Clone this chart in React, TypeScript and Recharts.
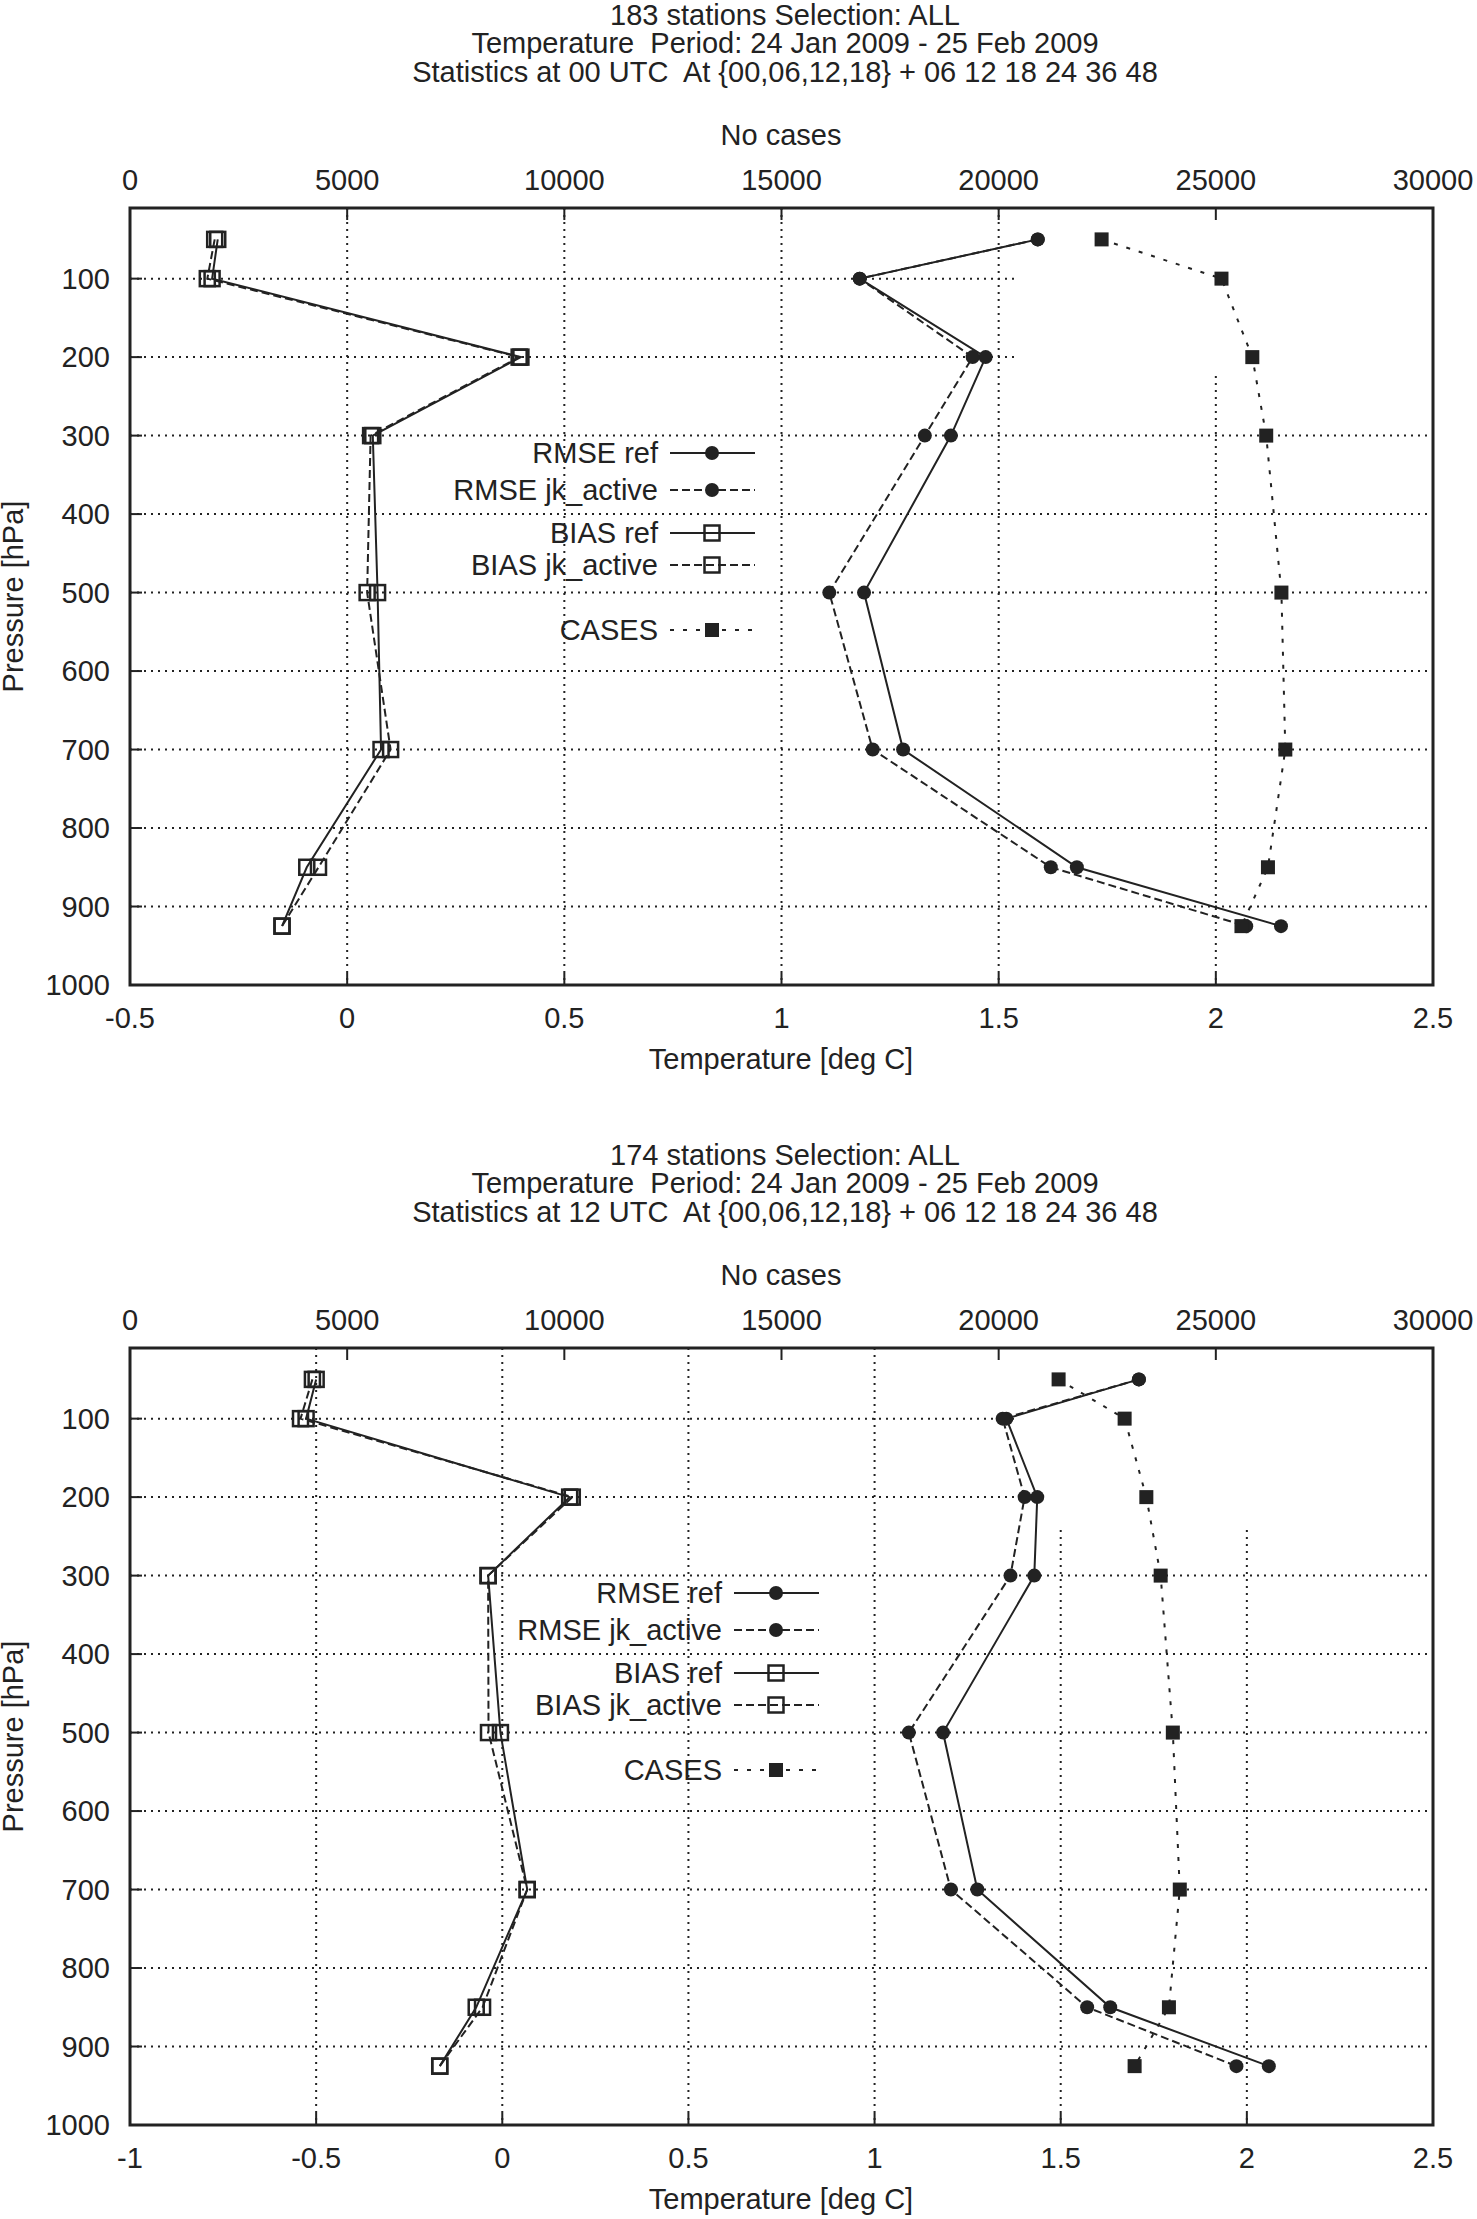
import React from 'react';
import { ScatterChart, Scatter, XAxis, YAxis, CartesianGrid, ReferenceArea, Legend } from 'recharts';

// pressure levels [hPa] at which the verification was done
const LEVELS = [50, 100, 200, 300, 500, 700, 850, 925];
const PRESSURE_TICKS = [100, 200, 300, 400, 500, 600, 700, 800, 900, 1000];
const CASES_TICKS = [0, 5000, 10000, 15000, 20000, 25000, 30000];

// 00 UTC panel
const TITLE_00 = [
  '183 stations Selection: ALL',
  'Temperature  Period: 24 Jan 2009 - 25 Feb 2009',
  'Statistics at 00 UTC  At {00,06,12,18} + 06 12 18 24 36 48',
];
const TEMP_TICKS_00 = [-0.5, 0, 0.5, 1, 1.5, 2, 2.5];
const RMSE_REF_00 = [1.59, 1.18, 1.47, 1.39, 1.19, 1.28, 1.68, 2.15];
const RMSE_JK_00 = [1.59, 1.18, 1.44, 1.33, 1.11, 1.21, 1.62, 2.07];
const BIAS_REF_00 = [-0.298, -0.311, 0.4, 0.059, 0.07, 0.078, -0.093, -0.15];
const BIAS_JK_00 = [-0.305, -0.322, 0.396, 0.054, 0.046, 0.1, -0.066, -0.15];
const CASES_00 = [22370, 25130, 25840, 26160, 26510, 26600, 26200, 25590];

// 12 UTC panel
const TITLE_12 = [
  '174 stations Selection: ALL',
  'Temperature  Period: 24 Jan 2009 - 25 Feb 2009',
  'Statistics at 12 UTC  At {00,06,12,18} + 06 12 18 24 36 48',
];
const TEMP_TICKS_12 = [-1, -0.5, 0, 0.5, 1, 1.5, 2, 2.5];
const RMSE_REF_12 = [1.71, 1.354, 1.437, 1.429, 1.184, 1.276, 1.633, 2.059];
const RMSE_JK_12 = [1.71, 1.344, 1.403, 1.365, 1.092, 1.205, 1.571, 1.972];
const BIAS_REF_12 = [-0.5, -0.527, 0.181, -0.038, -0.005, 0.067, -0.07, -0.168];
const BIAS_JK_12 = [-0.51, -0.542, 0.188, -0.038, -0.037, 0.067, -0.053, -0.168];
const CASES_12 = [21380, 22900, 23400, 23730, 24010, 24170, 23920, 23130];

const SERIES_NAMES = ['RMSE ref', 'RMSE jk_active', 'BIAS ref', 'BIAS jk_active', 'CASES'];

const INK = '#222';
const FONT = '"Liberation Sans", Arial, Helvetica, sans-serif';
const FS = 29;
const W = 1477;
const H = 1079;

const STYLES = [
  { dash: undefined, marker: 'dot', axis: 'temp' },
  { dash: '8 4', marker: 'dot', axis: 'temp' },
  { dash: undefined, marker: 'open', axis: 'temp' },
  { dash: '8 4', marker: 'open', axis: 'temp' },
  { dash: '4 9', marker: 'filled', axis: 'cases' },
];

// legend row offsets (gnuplot leaves an empty row before CASES)
const LEGEND_TOP = 453;
const LEGEND_ROWS = [0, 37, 80, 112, 177];

const Marker = ({ kind, cx, cy }: { kind: string; cx: number; cy: number }) => {
  if (kind === 'dot') return <circle cx={cx} cy={cy} r={7} fill={INK} />;
  if (kind === 'open')
    return <rect x={cx - 7.5} y={cy - 7.5} width={15} height={15} fill="none" stroke={INK} strokeWidth={2.5} />;
  return <rect x={cx - 7} y={cy - 7} width={14} height={14} fill={INK} />;
};

const toPoints = (vals: number[]) => LEVELS.map((p, i) => ({ x: vals[i], p }));

interface PanelProps {
  title: string[];
  tempTicks: number[];
  series: number[][];
  legendRight: number;
  mask: { x1: number; y2: number };
}

const Panel: React.FC<PanelProps> = ({ title, tempTicks, series, legendRight, mask }) => {
  const tMin = tempTicks[0];
  const tMax = tempTicks[tempTicks.length - 1];
  const tickStyle = { fontSize: FS, fill: INK, fontFamily: FONT };

  const renderLegend = () => (
    <svg width={W} height={H} style={{ display: 'block', fontFamily: FONT }}>
      {SERIES_NAMES.map((name, i) => {
        const y = LEGEND_TOP + LEGEND_ROWS[i];
        const st = STYLES[i];
        return (
          <g key={name}>
            <text x={legendRight} y={y} textAnchor="end" dominantBaseline="central" fontSize={FS} fill={INK}>
              {name}
            </text>
            <line x1={legendRight + 12} x2={legendRight + 97} y1={y} y2={y} stroke={INK} strokeWidth={2} strokeDasharray={st.dash} />
            <Marker kind={st.marker} cx={legendRight + 54} cy={y} />
          </g>
        );
      })}
    </svg>
  );

  return (
    <div style={{ position: 'relative', width: W, height: H }}>
      <ScatterChart width={W} height={H} margin={{ top: 107, right: 43, bottom: 34, left: 30 }}>
        <XAxis
          xAxisId="tempTop"
          orientation="top"
          type="number"
          dataKey="x"
          domain={[tMin, tMax]}
          ticks={tempTicks}
          interval={0}
          allowDataOverflow
          height={1}
          tick={false}
          tickSize={-12}
          tickLine={{ stroke: INK, strokeWidth: 2 }}
          axisLine={false}
        />
        <XAxis
          xAxisId="cases"
          orientation="top"
          type="number"
          dataKey="x"
          domain={[0, 30000]}
          ticks={CASES_TICKS}
          interval={0}
          allowDataOverflow
          height={100}
          tick={tickStyle}
          tickSize={-12}
          tickMargin={30}
          tickLine={{ stroke: INK, strokeWidth: 2 }}
          axisLine={false}
        />
        <XAxis
          xAxisId="temp"
          orientation="bottom"
          type="number"
          dataKey="x"
          domain={[tMin, tMax]}
          ticks={tempTicks}
          interval={0}
          allowDataOverflow
          height={60}
          tick={tickStyle}
          tickSize={-12}
          tickMargin={34}
          tickLine={{ stroke: INK, strokeWidth: 2 }}
          axisLine={false}
        />
        <YAxis
          yAxisId="p"
          type="number"
          dataKey="p"
          domain={[10, 1000]}
          reversed
          ticks={PRESSURE_TICKS}
          interval={0}
          allowDataOverflow
          width={100}
          tick={tickStyle}
          tickSize={-12}
          tickMargin={32}
          tickLine={{ stroke: INK, strokeWidth: 2 }}
          axisLine={false}
        />
        <YAxis
          yAxisId="pR"
          orientation="right"
          type="number"
          dataKey="p"
          domain={[10, 1000]}
          reversed
          ticks={PRESSURE_TICKS}
          interval={0}
          allowDataOverflow
          width={1}
          tick={false}
          tickSize={-12}
          tickLine={{ stroke: INK, strokeWidth: 2 }}
          axisLine={false}
        />
        <CartesianGrid
          xAxisId="temp"
          yAxisId="p"
          stroke={INK}
          strokeWidth={2}
          strokeDasharray="2 5"
        />
        <ReferenceArea
          xAxisId="temp"
          yAxisId="p"
          x1={mask.x1}
          x2={tMax}
          y1={10}
          y2={mask.y2}
          fill="#fff"
          fillOpacity={1}
          stroke="none"
        />
        <ReferenceArea
          xAxisId="temp"
          yAxisId="p"
          x1={tMin}
          x2={tMax}
          y1={10}
          y2={1000}
          fill="none"
          stroke={INK}
          strokeWidth={3}
        />
        {series.map((vals, i) => {
          const st = STYLES[i];
          return (
            <Scatter
              key={SERIES_NAMES[i]}
              name={SERIES_NAMES[i]}
              data={toPoints(vals)}
              xAxisId={st.axis}
              yAxisId="p"
              fill={INK}
              line={st.dash ? { stroke: INK, strokeWidth: 2, strokeDasharray: st.dash } : { stroke: INK, strokeWidth: 2 }}
              lineType="joint"
              shape={(props: any) => <Marker kind={st.marker} cx={props.cx} cy={props.cy} />}
              isAnimationActive={false}
            />
          );
        })}
        <Legend
          layout="vertical"
          align="center"
          verticalAlign="middle"
          content={renderLegend}
          wrapperStyle={{ left: 0, top: 0, width: W, height: H, pointerEvents: 'none' }}
        />
      </ScatterChart>

      {title.map((line, i) => (
        <div
          key={line}
          style={{
            position: 'absolute',
            left: 285,
            width: 1000,
            top: [15, 43, 72][i] - 14.5,
            lineHeight: '29px',
            fontSize: FS,
            textAlign: 'center',
            whiteSpace: 'pre',
          }}
        >
          {line}
        </div>
      ))}
      <div style={{ position: 'absolute', left: 281, width: 1000, top: 135 - 14.5, lineHeight: '29px', fontSize: FS, textAlign: 'center' }}>
        No cases
      </div>
      <div style={{ position: 'absolute', left: 281, width: 1000, top: 1059 - 14.5, lineHeight: '29px', fontSize: FS, textAlign: 'center' }}>
        Temperature [deg C]
      </div>
      <div
        style={{
          position: 'absolute',
          left: 13 - 150,
          width: 300,
          top: 596 - 14.5,
          lineHeight: '29px',
          fontSize: FS,
          textAlign: 'center',
          transform: 'rotate(-90deg)',
        }}
      >
        Pressure [hPa]
      </div>
    </div>
  );
};

export default function App() {
  return (
    <div style={{ position: 'absolute', left: 0, top: 0, width: W, height: 2219, background: '#fff', fontFamily: FONT, color: INK }}>
      <Panel
        title={TITLE_00}
        tempTicks={TEMP_TICKS_00}
        series={[RMSE_REF_00, RMSE_JK_00, BIAS_REF_00, BIAS_JK_00, CASES_00]}
        legendRight={658}
        mask={{ x1: 1.545, y2: 224 }}
      />
      <div style={{ position: 'absolute', left: 0, top: 1140 }}>
        <Panel
          title={TITLE_12}
          tempTicks={TEMP_TICKS_12}
          series={[RMSE_REF_12, RMSE_JK_12, BIAS_REF_12, BIAS_JK_12, CASES_12]}
          legendRight={722}
          mask={{ x1: 1.38, y2: 238 }}
        />
      </div>
    </div>
  );
}
